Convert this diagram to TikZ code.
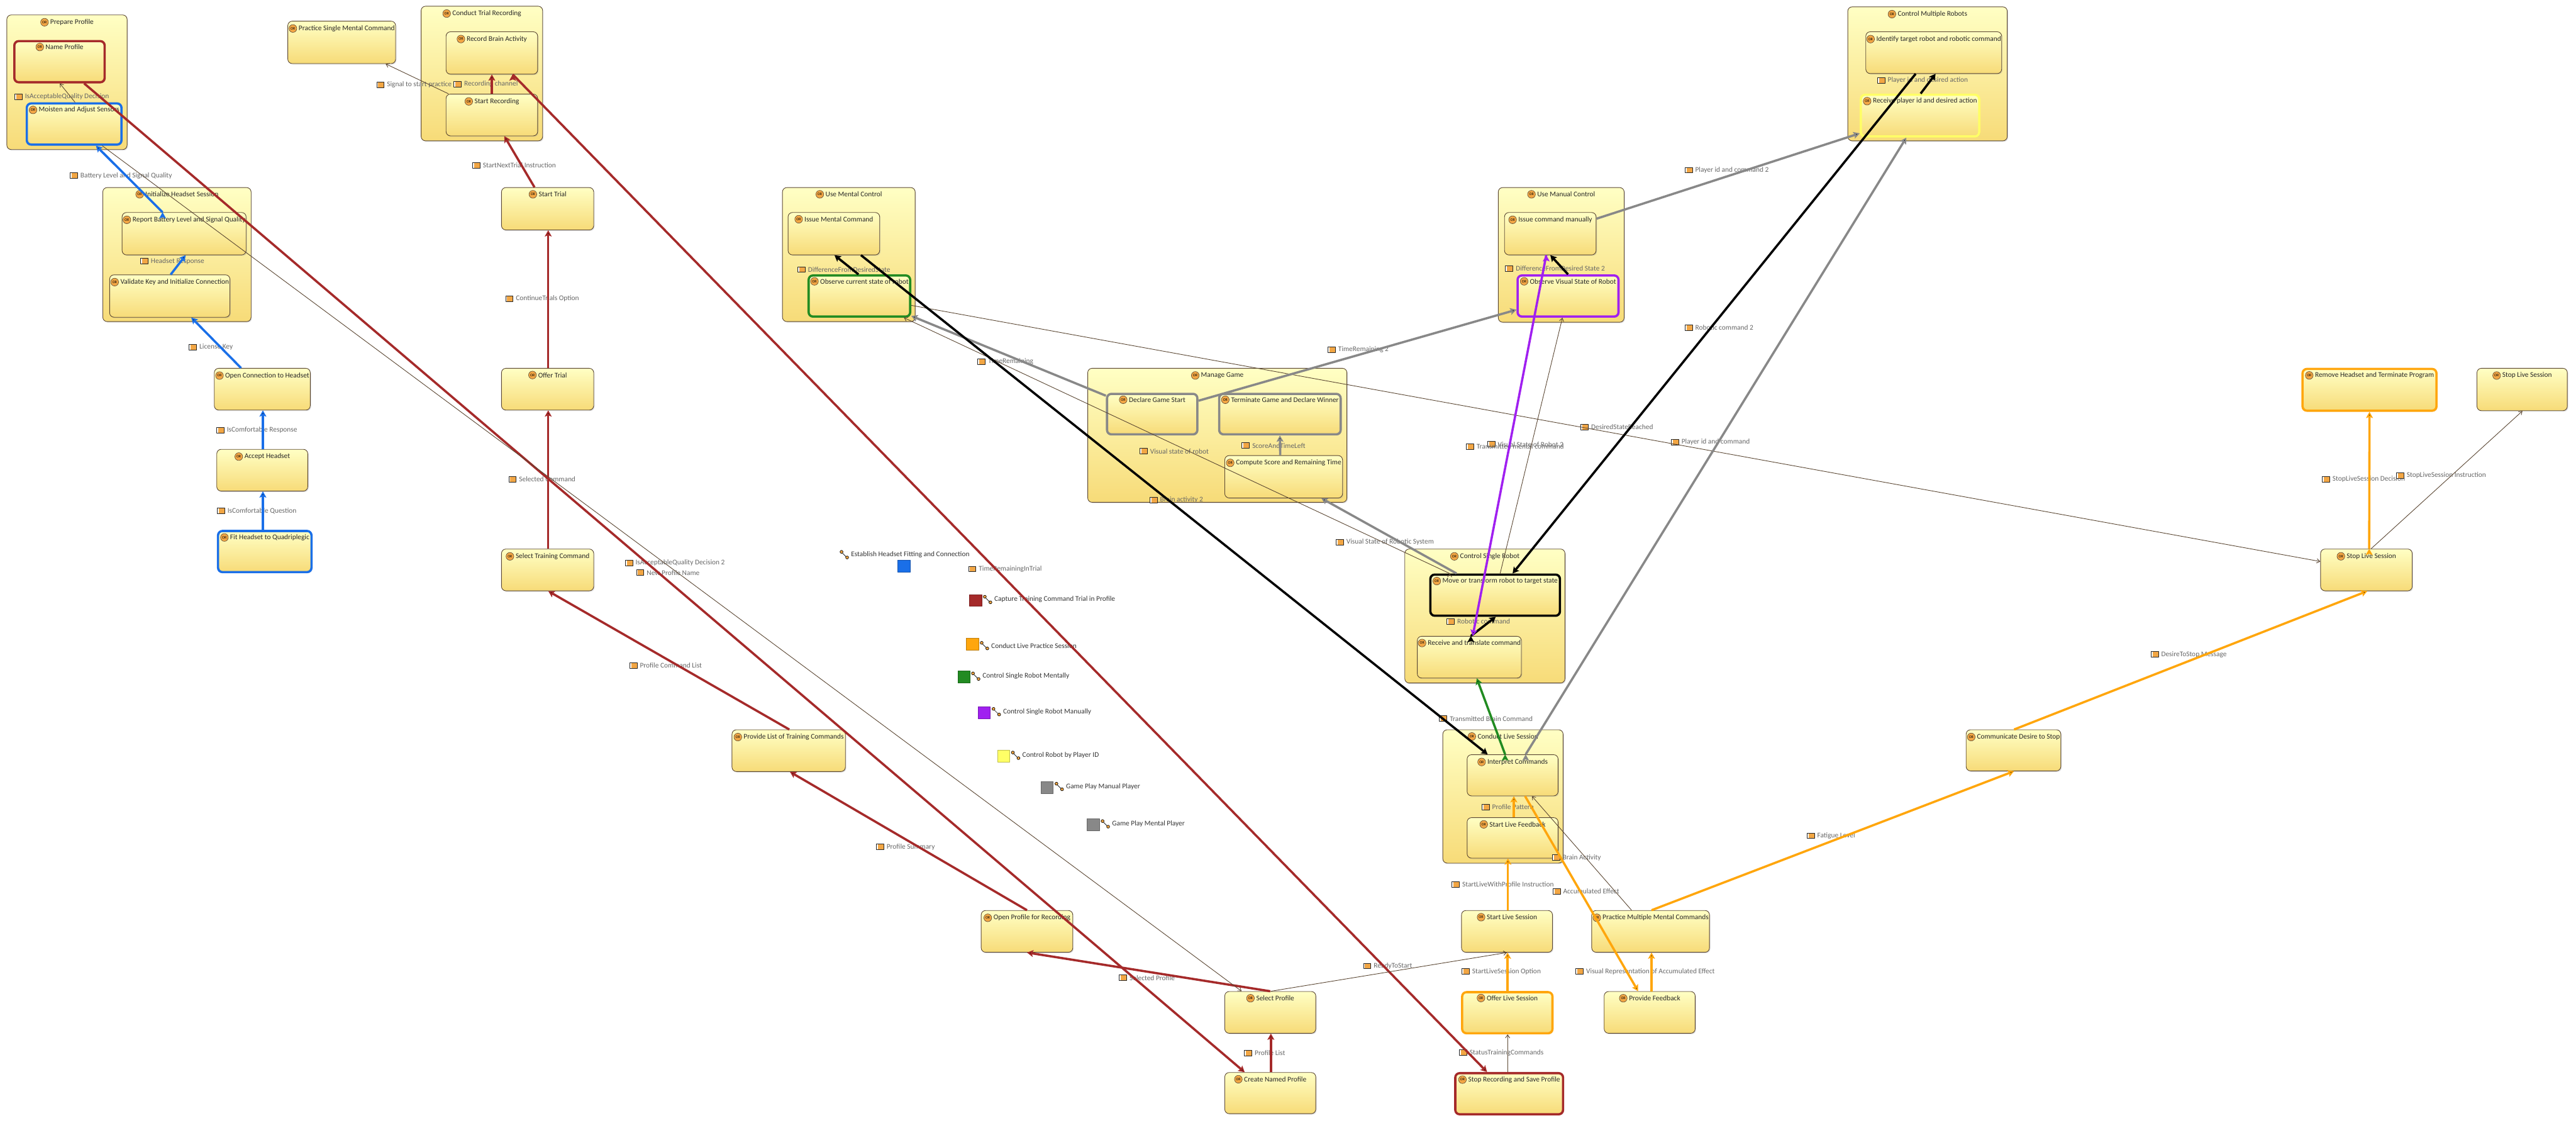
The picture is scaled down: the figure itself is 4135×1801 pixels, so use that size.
\documentclass[tikz,border=0pt]{standalone}
\usepackage{fontspec}
\setmainfont{Carlito}
\usetikzlibrary{arrows.meta,shadows}

\definecolor{flowred}{HTML}{A52A2A}
\definecolor{flowblue}{HTML}{1A6FE8}
\definecolor{flowgray}{HTML}{888888}
\definecolor{flowgreen}{HTML}{228B22}
\definecolor{flowpurple}{HTML}{A020F0}
\definecolor{floworange}{HTML}{FFA60D}
\definecolor{flowyellow}{HTML}{FFFF66}
\definecolor{boxline}{HTML}{5A4632}
\definecolor{boxtop}{HTML}{FFFFC4}
\definecolor{boxbottom}{HTML}{F7DB78}
\definecolor{iconorange}{HTML}{F2A644}

\begin{document}
\begin{tikzpicture}[x=1pt,y=-1pt,line join=round,
                    font=\fontsize{11.5}{13}\selectfont]
\tikzset{
    activity/.style={rectangle,rounded corners=7pt,draw=boxline,line width=0.9pt,
        top color=boxtop,bottom color=boxbottom,inner sep=0pt,
        drop shadow={shadow xshift=1.5pt,shadow yshift=-1.5pt,fill=black!40,opacity=0.3}},
    hot/.style={activity,line width=3.6pt,draw=#1},
    orbadge/.style={circle,draw=boxline,fill=iconorange,line width=0.6pt,inner sep=0pt,
        minimum size=12.5pt,text=black,font=\fontsize{6}{7}\selectfont,label distance=2.5pt},
    title/.style={anchor=north,inner sep=0pt,yshift=-7pt,xshift=8pt,text=black!85,
        label={[orbadge]left:OR}},
    flowicon/.style={rectangle,draw=black!85,fill=white,line width=0.8pt,inner sep=0pt,
        minimum width=12pt,minimum height=9pt,
        path picture={\fill[iconorange] (path picture bounding box.south west)
            rectangle (path picture bounding box.north east);
            \fill[white] (path picture bounding box.north west) rectangle +(2.5pt,-9pt);}},
    flowlabel/.style={anchor=west,inner sep=0pt,xshift=17pt,text=black!60,
        label={[flowicon,label distance=4pt]left:{}}},
    wayicon/.style={rectangle,inner sep=0pt,minimum width=15pt,minimum height=15pt,
        path picture={\draw[black,line width=0.7pt,fill=iconorange]
            ([shift={(3pt,-3pt)}]path picture bounding box.north west) circle (2.4pt)
            ([shift={(-3pt,3pt)}]path picture bounding box.south east) circle (2.4pt);
            \draw[black,line width=0.7pt] ([shift={(4.5pt,-5pt)}]path picture bounding box.north west)
            -- ([shift={(-5pt,4.5pt)}]path picture bounding box.south east);}},
    waylabel/.style={anchor=west,inner sep=0pt,text=black!80,
        label={[wayicon,label distance=3pt]left:{}}},
    waysquare/.style={rectangle,draw=#1!75!black,fill=#1,line width=0.8pt,inner sep=0pt,
        minimum width=19.5pt,minimum height=19pt},
    fatflow/.style={-{Stealth[length=10pt,width=11pt,inset=2pt]},line width=3.6pt,draw=#1},
    thinflow/.style={-{Straight Barb[length=5pt,width=7pt]},line width=0.9pt,draw=boxline},
}
\useasboundingbox (0,0) rectangle (4135,1801);

        % containers
        \node[activity,minimum width=193pt,minimum height=216pt,label={[title]north:Prepare Profile}]                (PrepareProfile)   at (107.5,132) {};
        \node[activity,minimum width=195pt,minimum height=216pt,label={[title]north:Conduct Trial Recording}]        (ConductTrial)     at (773.5,118) {};
        \node[activity,minimum width=238pt,minimum height=215pt,label={[title]north:Initialize Headset Session}]     (InitHeadset)      at (284,408.5) {};
        \node[activity,minimum width=213pt,minimum height=215pt,label={[title]north:Use Mental Control}]             (UseMental)        at (1362.5,408.5) {};
        \node[activity,minimum width=416pt,minimum height=215pt,label={[title]north:Manage Game}]                    (ManageGame)       at (1954,698.5) {};
        \node[activity,minimum width=202pt,minimum height=216pt,label={[title]north:Use Manual Control}]             (UseManual)        at (2506,409) {};
        \node[activity,minimum width=257pt,minimum height=215pt,label={[title]north:Control Single Robot}]           (ControlSingle)    at (2383.5,988.5) {};
        \node[activity,minimum width=193pt,minimum height=214pt,label={[title]north:Conduct Live Session}]           (ConductLive)      at (2412.5,1278) {};
        \node[activity,minimum width=256pt,minimum height=215pt,label={[title]north:Control Multiple Robots}]        (ControlMultiple)  at (3094,118.5) {};

        % activities
        \node[hot=flowred,minimum width=145pt,minimum height=66pt,label={[title]north:Name Profile}]                 (NameProfile)      at (95.5,99) {};
        \node[hot=flowblue,minimum width=152pt,minimum height=66pt,label={[title]north:Moisten and Adjust Sensors}]  (Moisten)          at (119,199) {};
        \node[activity,minimum width=173pt,minimum height=68pt,label={[title]north:Practice Single Mental Command}]  (PracticeSingle)   at (548.5,68) {};
        \node[activity,minimum width=147pt,minimum height=68pt,label={[title]north:Record Brain Activity}]           (RecordBrain)      at (789.5,85) {};
        \node[activity,minimum width=147pt,minimum height=67pt,label={[title]north:Start Recording}]                 (StartRecording)   at (789.5,184.5) {};
        \node[activity,minimum width=199pt,minimum height=68pt,label={[title]north:Report Battery Level and Signal Quality}] (ReportBattery) at (295.5,375) {};
        \node[activity,minimum width=193pt,minimum height=68pt,label={[title]north:Validate Key and Initialize Connection}] (ValidateKey) at (272.5,475) {};
        \node[activity,minimum width=148pt,minimum height=68pt,label={[title]north:Start Trial}]                     (StartTrial)       at (879,335) {};
        \node[activity,minimum width=154pt,minimum height=67pt,label={[title]north:Open Connection to Headset}]      (OpenConnection)   at (421,624.5) {};
        \node[activity,minimum width=146pt,minimum height=67pt,label={[title]north:Accept Headset}]                  (AcceptHeadset)    at (421,754.5) {};
        \node[hot=flowblue,minimum width=150pt,minimum height=66pt,label={[title]north:Fit Headset to Quadriplegic}] (FitHeadset)       at (425,885) {};
        \node[activity,minimum width=148pt,minimum height=67pt,label={[title]north:Offer Trial}]                     (OfferTrial)       at (879,624.5) {};
        \node[activity,minimum width=148pt,minimum height=67pt,label={[title]north:Select Training Command}]         (SelectTraining)   at (879,914.5) {};
        \node[activity,minimum width=182pt,minimum height=67pt,label={[title]north:Provide List of Training Commands}] (ProvideList)    at (1266,1204.5) {};
        \node[activity,minimum width=147pt,minimum height=67pt,label={[title]north:Open Profile for Recording}]      (OpenProfile)      at (1648.5,1494.5) {};
        \node[activity,minimum width=146pt,minimum height=67pt,label={[title]north:Select Profile}]                  (SelectProfile)    at (2039,1624.5) {};
        \node[activity,minimum width=146pt,minimum height=66pt,label={[title]north:Create Named Profile}]            (CreateProfile)    at (2039,1754) {};
        \node[activity,minimum width=147pt,minimum height=68pt,label={[title]north:Issue Mental Command}]            (IssueMental)      at (1338.5,375) {};
        \node[hot=flowgreen,minimum width=163pt,minimum height=66pt,label={[title]north:Observe current state of robot}] (ObserveCurrent) at (1379.5,475) {};
        \node[hot=flowgray,minimum width=145pt,minimum height=65pt,label={[title]north:Declare Game Start}]          (DeclareStart)     at (1849.5,664.5) {};
        \node[hot=flowgray,minimum width=195pt,minimum height=65pt,label={[title]north:Terminate Game and Declare Winner}] (TerminateGame) at (2054.5,664.5) {};
        \node[activity,minimum width=189pt,minimum height=68pt,label={[title]north:Compute Score and Remaining Time}] (ComputeScore)    at (2060.5,765) {};
        \node[activity,minimum width=147pt,minimum height=68pt,label={[title]north:Issue command manually}]          (IssueManual)      at (2488.5,375) {};
        \node[hot=flowpurple,minimum width=162pt,minimum height=66pt,label={[title]north:Observe Visual State of Robot}] (ObserveVisual) at (2517,475) {};
        \node[hot=black,minimum width=208pt,minimum height=66pt,label={[title]north:Move or transform robot to target state}] (MoveRobot) at (2400,955) {};
        \node[activity,minimum width=167pt,minimum height=67pt,label={[title]north:Receive and translate command}]   (ReceiveTranslate) at (2358.5,1054.5) {};
        \node[activity,minimum width=146pt,minimum height=66pt,label={[title]north:Interpret Commands}]              (Interpret)        at (2428,1244) {};
        \node[activity,minimum width=146pt,minimum height=65pt,label={[title]north:Start Live Feedback}]             (StartFeedback)    at (2428,1344.5) {};
        \node[activity,minimum width=146pt,minimum height=67pt,label={[title]north:Start Live Session}]              (StartLive)        at (2419,1494.5) {};
        \node[activity,minimum width=189pt,minimum height=67pt,label={[title]north:Practice Multiple Mental Commands}] (PracticeMultiple) at (2649.5,1494.5) {};
        \node[hot=floworange,minimum width=145pt,minimum height=66pt,label={[title]north:Offer Live Session}]        (OfferLive)        at (2419.5,1625) {};
        \node[activity,minimum width=146pt,minimum height=67pt,label={[title]north:Provide Feedback}]                (ProvideFeedback)  at (2648,1624.5) {};
        \node[hot=flowred,minimum width=173pt,minimum height=66pt,label={[title]north:Stop Recording and Save Profile}] (StopSave)      at (2422.5,1755) {};
        \node[activity,minimum width=218pt,minimum height=67pt,label={[title]north:Identify target robot and robotic command}] (IdentifyTarget) at (3104,84.5) {};
        \node[hot=flowyellow,minimum width=190pt,minimum height=67pt,label={[title]north:Receive player id and desired action}] (ReceivePlayer) at (3082,185.5) {};
        \node[hot=floworange,minimum width=215pt,minimum height=67pt,label={[title]north:Remove Headset and Terminate Program}] (RemoveHeadset) at (3803.5,625.5) {};
        \node[activity,minimum width=145pt,minimum height=68pt,label={[title]north:Stop Live Session}]               (StopLiveEnd)      at (4048.5,625) {};
        \node[activity,minimum width=147pt,minimum height=67pt,label={[title]north:Stop Live Session}]               (StopLive)         at (3798.5,914.5) {};
        \node[activity,minimum width=152pt,minimum height=66pt,label={[title]north:Communicate Desire to Stop}]      (Communicate)      at (3232,1204) {};

        % flow names
        \node[flowlabel] (fQuality)     at (23,155)     {IsAcceptableQuality Decision};
        \node[flowlabel] (fBattery)     at (112,282)    {Battery Level and Signal Quality};
        \node[flowlabel] (fResponse)    at (225,419)    {Headset Response};
        \node[flowlabel] (fSignal)      at (604,136)    {Signal to start practice};
        \node[flowlabel] (fChannel)     at (728,135)    {Recording channel};
        \node[flowlabel] (fNextTrial)   at (758,265)    {StartNextTrial Instruction};
        \node[flowlabel] (fContinue)    at (811,479)    {ContinueTrials Option};
        \node[flowlabel] (fKey)         at (303,557)    {License Key};
        \node[flowlabel] (fComfortR)    at (347,690)    {IsComfortable Response};
        \node[flowlabel] (fComfortQ)    at (348,820)    {IsComfortable Question};
        \node[flowlabel] (fSelected)    at (816,769)    {Selected Command};
        \node[flowlabel] (fQualityTwo)  at (1003,903)   {IsAcceptableQuality Decision 2};
        \node[flowlabel] (fNewName)     at (1021,919)   {New Profile Name};
        \node[flowlabel] (fCmdList)     at (1010,1068)  {Profile Command List};
        \node[flowlabel] (fTrialTime)   at (1554,913)   {TimeRemainingInTrial};
        \node[flowlabel] (fSummary)     at (1406,1359)  {Profile Summary};
        \node[flowlabel] (fSelProfile)  at (1796,1569)  {Selected Profile};
        \node[flowlabel] (fList)        at (1997,1690)  {Profile List};
        \node[flowlabel] (fReady)       at (2188,1550)  {ReadyToStart};
        \node[flowlabel] (fDiff)        at (1280,432.5) {DifferenceFromDesiredState};
        \node[flowlabel] (fTime)        at (1569,580)   {TimeRemaining};
        \node[flowlabel] (fVisual)      at (1829,724)   {Visual state of robot};
        \node[flowlabel] (fScore)       at (1993,715)   {ScoreAndTimeLeft};
        \node[flowlabel] (fBrainTwo)    at (1845,802)   {Brain activity 2};
        \node[flowlabel] (fPlayerTwo)   at (2704,273)   {Player id and command 2};
        \node[flowlabel] (fDiffTwo)     at (2416,431)   {DifferenceFromDesired State 2};
        \node[flowlabel] (fRoboticTwo)  at (2704,526)   {Robotic command 2};
        \node[flowlabel] (fReached)     at (2537,685)   {DesiredStateReached};
        \node[flowlabel] (fPlayer)      at (2682,709.5) {Player id and command};
        \node[flowlabel] (fVisualTwo)   at (2387,713)   {Visual State of Robot 2};
        \node[flowlabel] (fMental)      at (2353,716.5) {Transmitted mental command};
        \node[flowlabel] (fTimeTwo)     at (2131,561)   {TimeRemaining 2};
        \node[flowlabel] (fSystem)      at (2144,870)   {Visual State of Robotic System};
        \node[flowlabel] (fRobotic)     at (2322,997)   {Robotic command};
        \node[flowlabel] (fTransmit)    at (2310,1153)  {Transmitted Brain Command};
        \node[flowlabel] (fPattern)     at (2378,1295)  {Profile Pattern};
        \node[flowlabel] (fActivity)    at (2491,1376)  {Brain Activity};
        \node[flowlabel] (fWithProfile) at (2330,1419)  {StartLiveWithProfile Instruction};
        \node[flowlabel] (fAccum)       at (2492,1430)  {Accumulated Effect};
        \node[flowlabel] (fLiveOption)  at (2346,1559)  {StartLiveSession Option};
        \node[flowlabel] (fAccumVis)    at (2529,1559)  {Visual Representation of Accumulated Effect};
        \node[flowlabel] (fStatus)      at (2342,1689)  {StatusTrainingCommands};
        \node[flowlabel] (fDesired)     at (3013,129)   {Player id and desired action};
        \node[flowlabel] (fStopDec)     at (3727,769)   {StopLiveSession Decision};
        \node[flowlabel] (fStopIns)     at (3846,763)   {StopLiveSession Instruction};
        \node[flowlabel] (fStopMsg)     at (3452,1050)  {DesireToStop Message};
        \node[flowlabel] (fFatigue)     at (2900,1341)  {Fatigue Level};

        % thread legend
        \node[waylabel]               (wFitting)  at (1366,890)  {Establish Headset Fitting and Connection};
        \node[waysquare=flowblue]     (sFitting)  at (1451,908.5) {};
        \node[waylabel]               (wCapture)  at (1596,962)  {Capture Training Command Trial in Profile};
        \node[waysquare=flowred]      (sCapture)  at (1566,963.5) {};
        \node[waylabel]               (wLive)     at (1591,1036) {Conduct Live Practice Session};
        \node[waysquare=floworange]   (sLive)     at (1561,1033.5) {};
        \node[waylabel]               (wMentally) at (1577,1085) {Control Single Robot Mentally};
        \node[waysquare=flowgreen]    (sMentally) at (1547.5,1086.5) {};
        \node[waylabel]               (wManually) at (1610,1142) {Control Single Robot Manually};
        \node[waysquare=flowpurple]   (sManually) at (1580,1143.5) {};
        \node[waylabel]               (wPlayerId) at (1641,1212) {Control Robot by Player ID};
        \node[waysquare=flowyellow]   (sPlayerId) at (1611,1213.5) {};
        \node[waylabel]               (wManual)   at (1711,1262) {Game Play Manual Player};
        \node[waysquare=flowgray]     (sManual)   at (1681,1263.5) {};
        \node[waylabel]               (wMental)   at (1785,1322) {Game Play Mental Player};
        \node[waysquare=flowgray]     (sMental)   at (1755,1323.5) {};

        \path[fatflow=flowred]
        ([xshift=39.5pt]NameProfile.south)  edge ([xshift=-41pt]CreateProfile.north)
        ([xshift=1pt]CreateProfile.north)   edge ([xshift=1pt]SelectProfile.south)
        (SelectProfile.north)               edge (OpenProfile.south)
        (OpenProfile.north)                 edge ([xshift=2pt]ProvideList.south)
        ([xshift=1pt]ProvideList.north)     edge ([xshift=1pt]SelectTraining.south)
        ([xshift=1pt]SelectTraining.north)  edge ([xshift=1pt]OfferTrial.south)
        ([xshift=1pt]OfferTrial.north)      edge ([xshift=1pt]StartTrial.south)
        ([xshift=-21pt]StartTrial.north)    edge ([xshift=20pt]StartRecording.south)
        (StartRecording.north)              edge (RecordBrain.south)
        ([xshift=33.5pt]RecordBrain.south)  edge ([xshift=-35.5pt]StopSave.north)
        ; %end path

        \path[fatflow=flowblue]
        ([xshift=-3pt]FitHeadset.north)      edge ([xshift=1pt]AcceptHeadset.south)
        ([xshift=1pt]AcceptHeadset.north)    edge ([xshift=1pt]OpenConnection.south)
        ([xshift=-34pt]OpenConnection.north) edge ([xshift=34.5pt]ValidateKey.south)
        ([xshift=1.5pt]ValidateKey.north)    edge ([xshift=2.5pt]ReportBattery.south)
        ([xshift=-34.5pt]ReportBattery.north) edge ([xshift=35pt]Moisten.south)
        ; %end path

        \path[thinflow]
        ([xshift=1.5pt]Moisten.north)           edge ([xshift=0.5pt]NameProfile.south)
        ([xshift=-69.5pt]StartRecording.north)  edge ([xshift=70.5pt]PracticeSingle.south)
        ([xshift=45pt]Moisten.south)            edge ([xshift=-46pt]SelectProfile.north)
        ([xshift=1pt]SelectProfile.north)       edge (StartLive.south)
        ([xshift=-2.5pt]StopSave.north)         edge ([xshift=0.5pt]OfferLive.south)
        ([xshift=-30.5pt]PracticeMultiple.north) edge ([xshift=31pt]Interpret.south)
        ([yshift=-15pt]ObserveCurrent.east)     edge ([yshift=13.5pt]StopLive.west)
        ([xshift=7.5pt]StopLive.north)          edge ([xshift=0.5pt]StopLiveEnd.south)
        ([xshift=8pt]MoveRobot.north)           edge ([xshift=-9pt]ObserveVisual.south)
        ([xshift=-73pt]MoveRobot.north)         edge ([xshift=71.5pt]ObserveCurrent.south)
        ; %end path

        \path[fatflow=flowgray]
        ([yshift=29.5pt]DeclareStart.west)  edge ([yshift=-32pt]ObserveCurrent.east)
        ([yshift=21.5pt]DeclareStart.east)  edge ([yshift=-22pt]ObserveVisual.west)
        ([xshift=-5.5pt]ComputeScore.north) edge (TerminateGame.south)
        ([xshift=-62pt]MoveRobot.north)     edge ([xshift=60.5pt]ComputeScore.south)
        ([yshift=24pt]IssueManual.east)     edge ([yshift=-28.5pt]ReceivePlayer.west)
        ([xshift=21pt]Interpret.north)      edge ([xshift=-22pt]ReceivePlayer.south)
        ; %end path

        \path[fatflow=black]
        ([xshift=-1.5pt]ObserveCurrent.north) edge ([xshift=1pt]IssueMental.south)
        ([xshift=43.5pt]IssueMental.south)    edge ([xshift=-40pt]Interpret.north)
        (ObserveVisual.north)                 edge (IssueManual.south)
        ([xshift=-29pt]IdentifyTarget.south)  edge ([xshift=28pt]MoveRobot.north)
        ([xshift=1pt]ReceivePlayer.north)     edge ([xshift=3pt]IdentifyTarget.south)
        ([xshift=2.5pt]ReceiveTranslate.north) edge ([xshift=1pt]MoveRobot.south)
        ; %end path

        \path[fatflow=flowpurple]
        ([xshift=-6.5pt]IssueManual.south) edge ([xshift=5.5pt]ReceiveTranslate.north)
        ; %end path

        \path[fatflow=flowgreen]
        ([xshift=-12pt]Interpret.north) edge ([xshift=12pt]ReceiveTranslate.south)
        ; %end path

        \path[fatflow=floworange]
        ([xshift=2pt]StartFeedback.north)     edge ([xshift=2pt]Interpret.south)
        ([xshift=1.5pt]StartLive.north)       edge ([xshift=-7.5pt]StartFeedback.south)
        ([xshift=0.5pt]OfferLive.north)       edge ([xshift=1pt]StartLive.south)
        ([xshift=20pt]Interpret.south)        edge ([xshift=-18.5pt]ProvideFeedback.north)
        ([xshift=3pt]ProvideFeedback.north)   edge ([xshift=1.5pt]PracticeMultiple.south)
        ([xshift=1.5pt]PracticeMultiple.north) edge ([xshift=1pt]Communicate.south)
        ([xshift=1pt]Communicate.north)       edge ([xshift=1.5pt]StopLive.south)
        ([xshift=4.5pt]StopLive.north)        edge (RemoveHeadset.south)
        ; %end path

\end{tikzpicture}
\end{document}
